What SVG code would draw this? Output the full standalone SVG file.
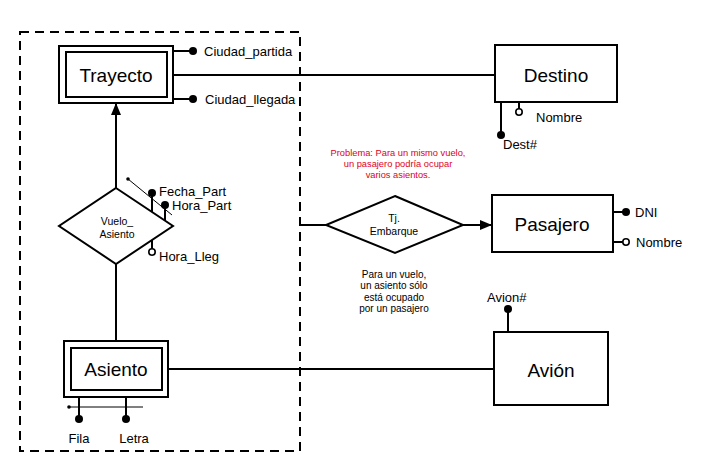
<svg xmlns="http://www.w3.org/2000/svg" width="710" height="463" viewBox="0 0 710 463">
<defs>
<marker id="arr" viewBox="0 0 12 10" refX="12" refY="5" markerWidth="12" markerHeight="10" markerUnits="userSpaceOnUse" orient="auto">
<path d="M0,0 L12,5 L0,10 Z" fill="#000"/>
</marker>
</defs>
<style>
.box{fill:#fff;stroke:#000;stroke-width:2}
.ln{stroke:#000;stroke-width:2;fill:none}
.thin{stroke:#000;stroke-width:1;fill:none}
.dot{fill:#000}
.odot{fill:#fff;stroke:#000;stroke-width:1.6}
.ent{font-family:"Liberation Sans",Arial,sans-serif;font-size:19px;text-anchor:middle;fill:#000}
.att{font-family:"Liberation Sans",Arial,sans-serif;font-size:13px;fill:#000}
.rel{font-family:"Liberation Sans",Arial,sans-serif;font-size:10.5px;text-anchor:middle;fill:#000}
.note{font-family:"Liberation Sans",Arial,sans-serif;font-size:10px;text-anchor:middle;fill:#000}
.red{font-size:9.3px;fill:#e0001a}
</style>
<rect width="710" height="463" fill="#fff"/>
<rect x="20" y="32" width="280" height="419" fill="none" stroke="#000" stroke-width="2" stroke-dasharray="9,6"/>
<g id="connectors">
<line class="ln" x1="173" y1="75" x2="495" y2="75"/>
<line class="ln" x1="116" y1="188" x2="116" y2="103" marker-end="url(#arr)"/>
<line class="ln" x1="116" y1="264" x2="116" y2="341"/>
<line class="ln" x1="168" y1="369" x2="494" y2="369"/>
<line class="ln" x1="300" y1="225" x2="326" y2="225"/>
<line class="ln" x1="463" y1="225" x2="492" y2="225" marker-end="url(#arr)"/>
</g>
<g id="trayecto">
<rect class="box" x="59" y="46" width="114" height="57"/>
<rect class="box" x="66" y="52" width="101" height="45"/>
<text class="ent" x="116" y="82">Trayecto</text>
<line class="ln" x1="173" y1="51" x2="193" y2="51"/>
<circle class="dot" cx="193" cy="51" r="4"/>
<text class="att" x="204" y="56">Ciudad_partida</text>
<line class="ln" x1="173" y1="99" x2="193" y2="99"/>
<circle class="dot" cx="193" cy="99" r="4"/>
<text class="att" x="205" y="104">Ciudad_llegada</text>
</g>
<g id="vuelo_asiento">
<polygon class="box" points="116,188 173,226 116,264 59,226"/>
<text class="rel" x="117" y="225">Vuelo_</text>
<text class="rel" x="117" y="238">Asiento</text>
<line class="thin" x1="128" y1="179" x2="172" y2="215"/>
<circle class="dot" cx="128" cy="179" r="1.8"/>
<line class="ln" x1="152" y1="193" x2="152" y2="212"/>
<circle class="dot" cx="152" cy="193" r="4"/>
<text class="att" x="159" y="196">Fecha_Part</text>
<line class="ln" x1="165" y1="205" x2="165" y2="221"/>
<circle class="dot" cx="165" cy="205" r="4"/>
<text class="att" x="172" y="210">Hora_Part</text>
<line class="ln" x1="152" y1="240" x2="152" y2="249"/>
<circle class="odot" cx="152" cy="252" r="3.2"/>
<text class="att" x="159" y="261">Hora_Lleg</text>
</g>
<g id="asiento">
<rect class="box" x="64" y="341" width="104" height="56"/>
<rect class="box" x="71" y="348" width="91" height="42"/>
<text class="ent" x="116" y="376">Asiento</text>
<line class="ln" x1="79" y1="397" x2="79" y2="419"/>
<circle class="dot" cx="79" cy="419" r="4"/>
<line class="ln" x1="126" y1="397" x2="126" y2="419"/>
<circle class="dot" cx="126" cy="419" r="4"/>
<line class="thin" x1="69" y1="407" x2="143" y2="407"/>
<circle class="dot" cx="69" cy="407" r="1.8"/>
<text class="att" x="79" y="443" text-anchor="middle">Fila</text>
<text class="att" x="134" y="443" text-anchor="middle">Letra</text>
</g>
<g id="destino">
<rect class="box" x="495" y="45" width="122" height="57"/>
<text class="ent" x="556" y="82">Destino</text>
<line class="ln" x1="501" y1="102" x2="501" y2="135"/>
<circle class="dot" cx="501" cy="135" r="4"/>
<text class="att" x="503" y="149">Dest#</text>
<line class="ln" x1="519" y1="102" x2="519" y2="109"/>
<circle class="odot" cx="519" cy="112" r="3.2"/>
<text class="att" x="536" y="122">Nombre</text>
</g>
<g id="tj_embarque">
<polygon class="box" points="395,196 463,225 395,253 326,225"/>
<text class="rel" x="394" y="222">Tj.</text>
<text class="rel" x="394" y="235">Embarque</text>
</g>
<g id="pasajero">
<rect class="box" x="492" y="195" width="121" height="57"/>
<text class="ent" x="552" y="231">Pasajero</text>
<line class="ln" x1="613" y1="212" x2="626" y2="212"/>
<circle class="dot" cx="626" cy="212" r="4"/>
<text class="att" x="635" y="217">DNI</text>
<line class="ln" x1="613" y1="242" x2="623" y2="242"/>
<circle class="odot" cx="626" cy="242" r="3.2"/>
<text class="att" x="636" y="247">Nombre</text>
</g>
<g id="avion">
<rect class="box" x="494" y="332" width="114" height="73"/>
<text class="ent" x="551" y="377">Avión</text>
<line class="ln" x1="508" y1="332" x2="508" y2="309"/>
<circle class="dot" cx="508" cy="309" r="4"/>
<text class="att" x="487" y="302">Avion#</text>
</g>
<g id="notes">
<text class="note red" x="398" y="156">Problema: Para un mismo vuelo,</text>
<text class="note red" x="398" y="167">un pasajero podría ocupar</text>
<text class="note red" x="398" y="178">varios asientos.</text>
<text class="note" x="394" y="278">Para un vuelo,</text>
<text class="note" x="394" y="289">un asiento sólo</text>
<text class="note" x="394" y="301">está ocupado</text>
<text class="note" x="394" y="312">por un pasajero</text>
</g>
</svg>
